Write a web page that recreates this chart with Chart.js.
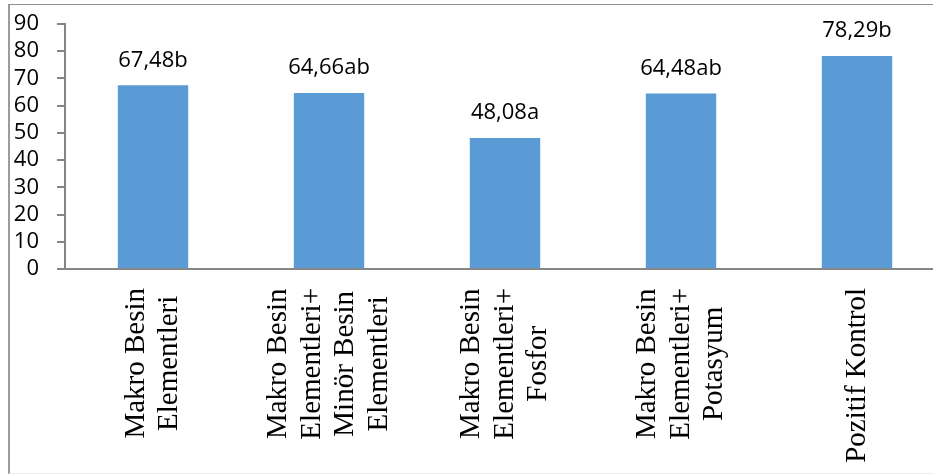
<!DOCTYPE html>
<html>
<head>
<meta charset="utf-8">
<script src="https://cdn.jsdelivr.net/npm/chart.js@4/dist/chart.umd.min.js"></script>
<style>
    html, body { margin: 0; padding: 0; background: #fff; overflow: hidden; }
    #frame {
        position: absolute; left: 8px; top: 4px; width: 960px; height: 468px;
        border-left: 2px solid #9c9c9c; border-top: 1px solid #8f8f8f; border-bottom: 1px solid #ececec;
    }
    #wrap { position: absolute; left: 0; top: 0; width: 945px; height: 474px; }
</style>
</head>
<body>
<div id="frame"></div>
<div id="wrap"><canvas id="chart"></canvas></div>
<script>
// Data
const categories = [
    ['Makro Besin', 'Elementleri'],
    ['Makro Besin', 'Elementleri+', 'Minör Besin', 'Elementleri'],
    ['Makro Besin', 'Elementleri+', 'Fosfor'],
    ['Makro Besin', 'Elementleri+', 'Potasyum'],
    ['Pozitif Kontrol']
];
const values = [67.48, 64.66, 48.08, 64.48, 78.29];
const letters = ['b', 'ab', 'a', 'ab', 'b'];
const yMin = 0, yMax = 90, yStep = 10;

const axisGray = '#868686';

// value labels above the bars, e.g. "67,48b"
const valueLabels = {
    id: 'valueLabels',
    afterDatasetsDraw(chart) {
        const ctx = chart.ctx;
        const meta = chart.getDatasetMeta(0);
        ctx.save();
        ctx.font = '22px "Open Sans"';
        ctx.fillStyle = '#000';
        ctx.textAlign = 'center';
        ctx.textBaseline = 'middle';
        meta.data.forEach((bar, i) => {
            const txt = values[i].toFixed(2).replace('.', ',') + letters[i];
            ctx.fillText(txt, bar.x, bar.y - 25);
        });
        ctx.restore();
    }
};

// rotated category labels, lines centred on each other
const categoryLabels = {
    id: 'categoryLabels',
    afterDraw(chart) {
        const ctx = chart.ctx;
        const xScale = chart.scales.x;
        const top = chart.chartArea.bottom + 19;
        const lineGap = 33.5;
        ctx.save();
        ctx.font = '29px "Liberation Serif"';
        ctx.fillStyle = '#000';
        ctx.textAlign = 'center';
        ctx.textBaseline = 'middle';
        categories.forEach((lines, i) => {
            const x = xScale.getPixelForValue(i);
            const longest = Math.max(...lines.map(l => ctx.measureText(l).width));
            const cy = top + longest / 2;
            lines.forEach((line, j) => {
                const lx = x + (j - (lines.length - 1) / 2) * lineGap;
                ctx.save();
                ctx.translate(lx, cy);
                ctx.rotate(-Math.PI / 2);
                ctx.fillText(line, 0, 0);
                ctx.restore();
            });
        });
        ctx.restore();
    }
};

new Chart(document.getElementById('chart'), {
    type: 'bar',
    data: {
        labels: categories.map(c => c.join(' ')),
        datasets: [{
            data: values,
            backgroundColor: '#5B9BD5',
            borderWidth: 0,
            barPercentage: 0.4,
            categoryPercentage: 1.0
        }]
    },
    options: {
        responsive: true,
        maintainAspectRatio: false,
        animation: false,
        layout: { padding: { top: 24, left: 0, right: 0, bottom: 0 } },
        plugins: {
            legend: { display: false },
            tooltip: { enabled: false }
        },
        scales: {
            x: {
                grid: { display: false },
                border: { display: true, color: axisGray, width: 2 },
                ticks: { display: false },
                afterFit(scale) { scale.height = 205; }
            },
            y: {
                min: yMin,
                max: yMax,
                grid: { drawOnChartArea: false, drawTicks: true, tickLength: 8, color: axisGray, lineWidth: 2 },
                border: { display: true, color: axisGray, width: 2 },
                ticks: {
                    stepSize: yStep,
                    autoSkip: false,
                    color: '#000',
                    padding: 18,
                    font: { family: '"Open Sans"', size: 22, lineHeight: 1.0 }
                },
                afterFit(scale) {
                    scale.width = 65;
                    scale.paddingTop = 0;
                    scale.paddingBottom = 0;
                }
            }
        }
    },
    plugins: [valueLabels, categoryLabels]
});
</script>
</body>
</html>
